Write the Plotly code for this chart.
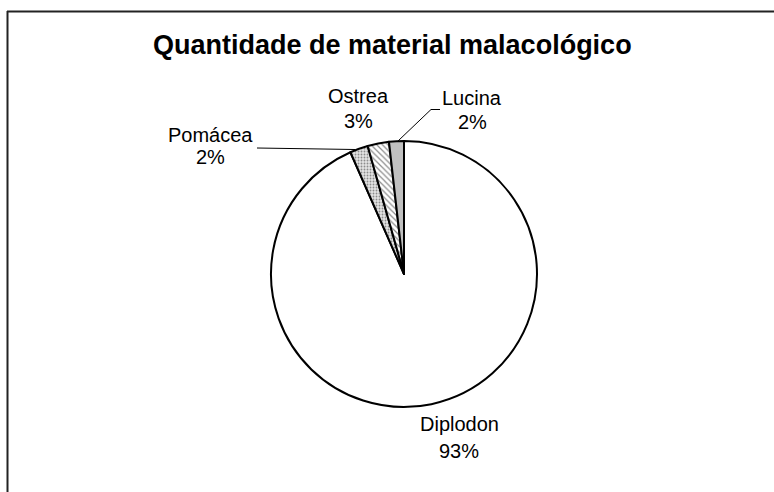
import plotly.graph_objects as go

# Shell counts by taxon (relative shares), drawn clockwise from 12 o'clock
categories = ["Diplodon", "Pomácea", "Ostrea", "Lucina"]
values = [93.4, 2.2, 2.6, 1.8]

W, H = 774, 492
FONT = "Arial, Liberation Sans, sans-serif"


def px(x):
    return x / W


def py(y):
    return 1 - y / H


total = sum(values)
pcts = [round(100 * v / total) for v in values]

fills = {"Diplodon": "#FFFFFF", "Pomácea": "#E4E4E4", "Ostrea": "#FFFFFF", "Lucina": "#C0C0C0"}
hatch = {"Diplodon": "", "Pomácea": ".", "Ostrea": "\\", "Lucina": ""}
hatch_size = {"Diplodon": 6, "Pomácea": 3, "Ostrea": 4, "Lucina": 6}

fig = go.Figure()
fig.add_trace(go.Pie(
    labels=categories,
    values=values,
    sort=False,
    direction="clockwise",
    rotation=0,
    textinfo="none",
    hoverinfo="label+percent",
    showlegend=False,
    domain=dict(x=[px(271), px(537)], y=[py(407), py(141)]),
    marker=dict(
        colors=[fills[c] for c in categories],
        line=dict(color="#000000", width=2),
        pattern=dict(
            shape=[hatch[c] for c in categories],
            fgcolor="#8C8C8C",
            bgcolor=[fills[c] for c in categories],
            size=[hatch_size[c] for c in categories],
            solidity=0.3,
        ),
    ),
))

# label anchor points (name line centre, percent line centre)
label_pos = {
    "Lucina": (472, 98, 122),
    "Ostrea": (358, 96, 121),
    "Pomácea": (210, 135, 157),
    "Diplodon": (459, 424, 451),
}

annotations = []
for name, pct in zip(categories, pcts):
    x, y1, y2 = label_pos[name]
    for txt, yy in ((name, y1), (f"{pct}%", y2)):
        annotations.append(dict(
            x=px(x), y=py(yy), xref="paper", yref="paper",
            text=txt, showarrow=False, xanchor="center", yanchor="middle",
            font=dict(family=FONT, size=20, color="#000000"),
        ))

annotations.append(dict(
    x=px(392), y=py(45), xref="paper", yref="paper",
    text="<b>Quantidade de material malacológico</b>", showarrow=False,
    xanchor="center", yanchor="middle",
    font=dict(family=FONT, size=27, color="#000000"),
))

shapes = [
    # chart frame
    dict(type="line", xref="paper", yref="paper", x0=px(7), y0=py(11.5), x1=px(780), y1=py(11.5),
         line=dict(color="#222222", width=2)),
    dict(type="line", xref="paper", yref="paper", x0=px(7.5), y0=py(11), x1=px(7.5), y1=py(500),
         line=dict(color="#222222", width=2)),
    # leader lines
    dict(type="line", xref="paper", yref="paper", x0=px(257), y0=py(148), x1=px(355), y1=py(149.5),
         line=dict(color="#000000", width=1)),
    dict(type="path", xref="paper", yref="paper",
         path=f"M {px(440)},{py(109.5)} L {px(431)},{py(109.5)} L {px(398)},{py(141)}",
         line=dict(color="#000000", width=1)),
]

fig.update_layout(
    width=W, height=H,
    margin=dict(l=0, r=0, t=0, b=0),
    paper_bgcolor="#FFFFFF",
    plot_bgcolor="#FFFFFF",
    annotations=annotations,
    shapes=shapes,
)

fig.write_html("out.html")
